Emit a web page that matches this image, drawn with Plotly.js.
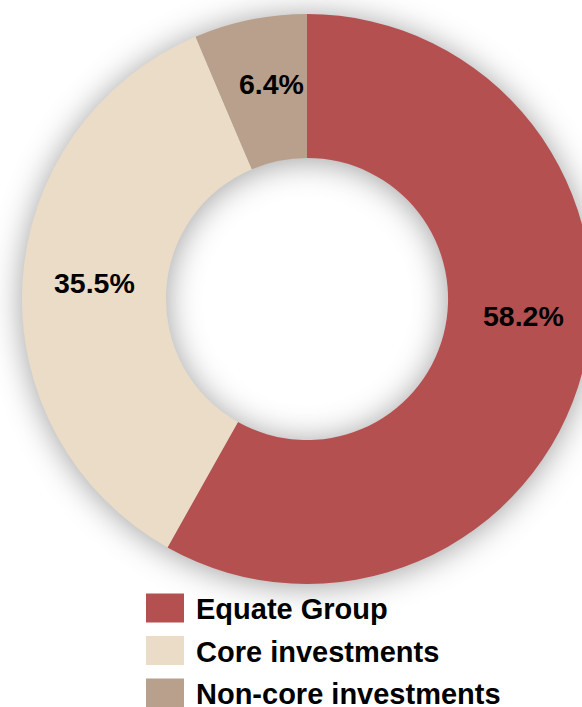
<!DOCTYPE html>
<html>
<head>
<meta charset="utf-8">
<script src="https://cdn.plot.ly/plotly-3.0.1.min.js"></script>
<style>
html,body{margin:0;padding:0;overflow:hidden;background:#fff;}
#chart{width:600px;height:707px;}
.pielayer .trace:first-of-type{filter:drop-shadow(0 2px 16px rgba(0,0,0,0.38));}
</style>
</head>
<body>
<div id="chart"></div>
<script>
const categories = ["Equate Group", "Core investments", "Non-core investments"];
const values = [58.2, 35.5, 6.4];
const colors = ["#B55050", "#EADCC7", "#B9A08C"];

const W = 600, H = 707;
const M = {l: 22, r: 8, t: 14, b: 123};
const plotW = W - M.l - M.r, plotH = H - M.t - M.b;
const px2x = px => (px - M.l) / plotW;
const px2y = py => (M.t + plotH - py) / plotH;

const font = "Arial, 'Liberation Sans', sans-serif";

// data-label anchor points (pixel centres) as placed in the reference
const labelPos = [[523, 316], [94, 283], [271, 84]];

const pie = {
  type: "pie",
  labels: categories,
  values: values,
  hole: 0.495,
  sort: false,
  direction: "clockwise",
  rotation: 0,
  showlegend: false,
  domain: {x: [0, 1], y: [0, 1]},
  hoverinfo: "skip",
  marker: {colors: colors, line: {width: 0}},
  textinfo: "none"
};

const shapes = [], annotations = [];
values.forEach((v, i) => {
  annotations.push({
    xref: "paper", yref: "paper", x: px2x(labelPos[i][0]), y: px2y(labelPos[i][1]),
    xanchor: "center", yanchor: "middle", showarrow: false,
    text: v.toFixed(1) + "%", font: {family: font, size: 28.5, color: "#000", weight: "bold"}
  });
});
categories.forEach((c, i) => {
  const cy = 608 + 42.5 * i;
  shapes.push({
    type: "rect", xref: "paper", yref: "paper",
    x0: px2x(146), x1: px2x(184), y0: px2y(cy + 14.5), y1: px2y(cy - 14.5),
    fillcolor: colors[i], line: {width: 0}
  });
  annotations.push({
    xref: "paper", yref: "paper", x: px2x(194), y: px2y(cy + 1),
    xanchor: "left", yanchor: "middle", showarrow: false,
    text: c, font: {family: font, size: 29, color: "#000", weight: "bold"}
  });
});

const layout = {
  width: W, height: H,
  margin: M,
  paper_bgcolor: "#fff",
  plot_bgcolor: "#fff",
  shapes: shapes,
  annotations: annotations,
  showlegend: false
};

Plotly.newPlot("chart", [pie], layout, {staticPlot: true, displayModeBar: false});
</script>
</body>
</html>
